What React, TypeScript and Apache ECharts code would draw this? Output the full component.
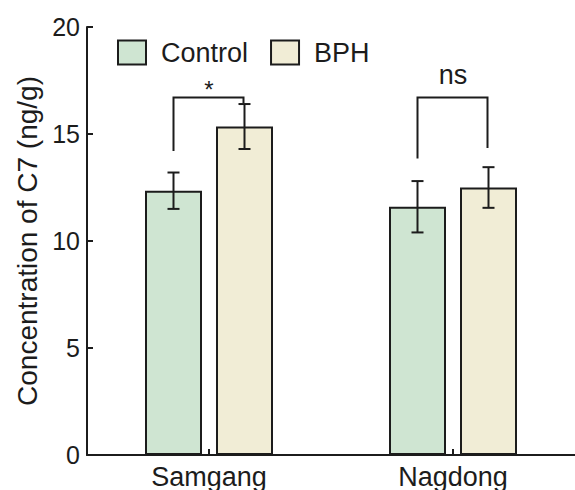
import React, { useEffect, useRef } from "react";
import * as echarts from "echarts";

const categories = ["Samgang", "Nagdong"];
const seriesNames = ["Control", "BPH"];
const controlMeans = [12.35, 11.6];
const controlErrors = [0.85, 1.2];
const bphMeans = [15.35, 12.5];
const bphErrors = [1.05, 0.95];
const yTicks = [0, 5, 10, 15, 20];
const sigLabels = ["*", "ns"];
const bracketTop = [16.7, 16.7];
const bracketLeftEnd = [14.2, 13.85];
const bracketRightEnd = [16.45, 14.35];

const BAR_W = 57;
const BAR_GAP = 14;
const INK = "#1c1c1c";
const FONT = "'Liberation Sans', Arial, Helvetica, sans-serif";

export default function App() {
  const ref = useRef<HTMLDivElement>(null);
  useEffect(() => {
    if (!ref.current) return;
    const chart = echarts.init(ref.current, null, { renderer: "svg" });
    const half = (BAR_W + BAR_GAP) / 2;

    const errSeries = (means: number[], errs: number[], off: number) => ({
      type: "custom",
      z: 5,
      silent: true,
      data: means.map((m, i) => [i, m - errs[i], m + errs[i]]),
      renderItem: (params: any, api: any) => {
        const lo = api.coord([api.value(0), api.value(1)]);
        const hi = api.coord([api.value(0), api.value(2)]);
        const x = lo[0] + off;
        const cap = 6;
        const st = { stroke: INK, lineWidth: 2 };
        return {
          type: "group",
          children: [
            { type: "line", shape: { x1: x, y1: lo[1], x2: x, y2: hi[1] }, style: st },
            { type: "line", shape: { x1: x - cap, y1: lo[1], x2: x + cap, y2: lo[1] }, style: st },
            { type: "line", shape: { x1: x - cap, y1: hi[1], x2: x + cap, y2: hi[1] }, style: st },
          ],
        };
      },
    });

    const sigSeries = {
      type: "custom",
      z: 5,
      silent: true,
      data: categories.map((_, i) => [i, bracketTop[i], bracketLeftEnd[i], bracketRightEnd[i]]),
      renderItem: (params: any, api: any) => {
        const top = api.coord([api.value(0), api.value(1)]);
        const l = api.coord([api.value(0), api.value(2)]);
        const r = api.coord([api.value(0), api.value(3)]);
        const xl = top[0] - half;
        const xr = top[0] + half - 1;
        const st = { stroke: INK, lineWidth: 2, fill: null };
        const isStar = params.dataIndex === 0;
        return {
          type: "group",
          children: [
            {
              type: "polyline",
              shape: { points: [[xl, l[1]], [xl, top[1]], [xr, top[1]], [xr, r[1]]] },
              style: st,
            },
            {
              type: "text",
              style: {
                text: sigLabels[params.dataIndex],
                x: top[0],
                y: isStar ? top[1] + 4 : top[1] - 9,
                align: "center",
                verticalAlign: "bottom",
                fontSize: isStar ? 24 : 27,
                fontFamily: FONT,
                fill: INK,
              },
            },
          ],
        };
      },
    };

    chart.setOption({
      animation: false,
      backgroundColor: "#ffffff",
      textStyle: { fontFamily: FONT },
      grid: { left: 87, top: 27, width: 492, height: 429, containLabel: false },
      legend: {
        data: seriesNames,
        left: 112,
        top: 34,
        itemWidth: 28,
        itemHeight: 24,
        itemGap: 22,
        icon: "rect",
        textStyle: { fontSize: 27, color: INK, fontFamily: FONT, padding: [0, 0, 0, 10] },
      },
      xAxis: {
        type: "category",
        data: categories,
        axisLine: { lineStyle: { color: INK, width: 2 } },
        axisTick: { show: true, inside: true, alignWithLabel: true, length: 6, lineStyle: { color: INK, width: 2 } },
        axisLabel: { fontSize: 27, color: INK, margin: 8, fontFamily: FONT },
      },
      yAxis: {
        type: "value",
        min: yTicks[0],
        max: yTicks[yTicks.length - 1],
        interval: yTicks[1] - yTicks[0],
        name: "Concentration of C7 (ng/g)",
        nameLocation: "middle",
        nameGap: 40,
        nameTextStyle: { fontSize: 28, color: INK, fontFamily: FONT },
        splitLine: { show: false },
        axisLine: { show: true, lineStyle: { color: INK, width: 2 } },
        axisTick: { show: true, inside: true, length: 6, lineStyle: { color: INK, width: 2 } },
        axisLabel: { fontSize: 25, color: INK, margin: 7, fontFamily: FONT },
      },
      series: [
        {
          name: seriesNames[0],
          type: "bar",
          data: controlMeans,
          barWidth: BAR_W,
          barGap: (BAR_GAP / BAR_W) * 100 + "%",
          itemStyle: { color: "#cfe5d2", borderColor: INK, borderWidth: 2 },
        },
        {
          name: seriesNames[1],
          type: "bar",
          data: bphMeans,
          barWidth: BAR_W,
          barGap: (BAR_GAP / BAR_W) * 100 + "%",
          itemStyle: { color: "#f1edd6", borderColor: INK, borderWidth: 2 },
        },
        errSeries(controlMeans, controlErrors, -half),
        errSeries(bphMeans, bphErrors, half),
        sigSeries,
      ],
    });
    return () => chart.dispose();
  }, []);
  return <div ref={ref} style={{ width: 575, height: 490, position: "absolute", left: 0, top: 0 }} />;
}
